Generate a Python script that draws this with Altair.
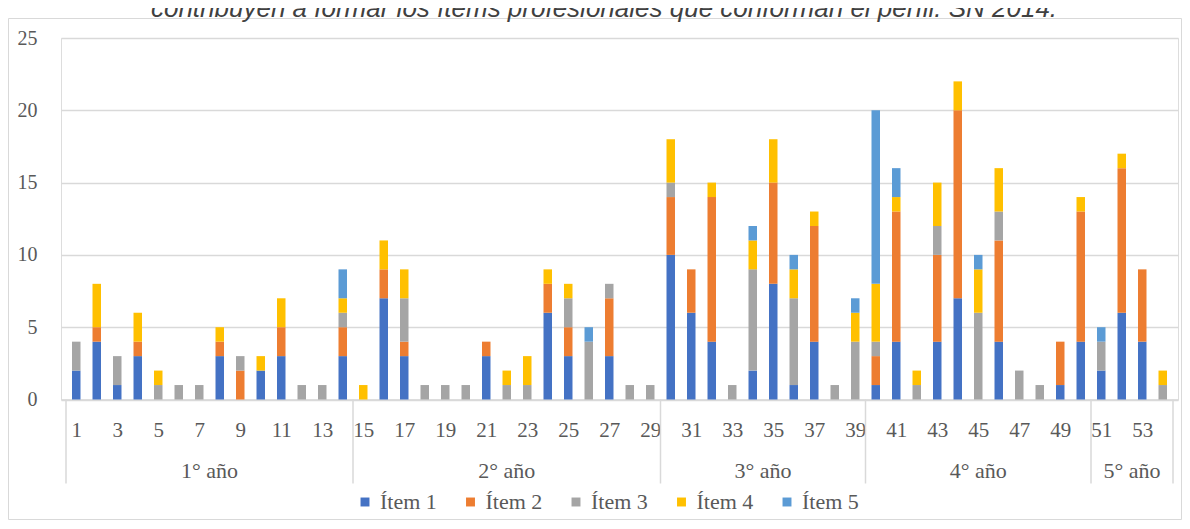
import altair as alt
import pandas as pd

courses = list(range(1, 55))
item1 = [2, 4, 1, 3, 0, 0, 0, 3, 0, 2, 3, 0, 0, 3,
         0, 7, 3, 0, 0, 0, 3, 0, 0, 6, 3, 0, 3, 0, 0,
         10, 6, 4, 0, 2, 8, 1, 4, 0, 0,
         1, 4, 0, 4, 7, 0, 4, 0, 0, 1, 4,
         2, 6, 4, 0]
item2 = [0, 1, 0, 1, 0, 0, 0, 1, 2, 0, 2, 0, 0, 2,
         0, 2, 1, 0, 0, 0, 1, 0, 0, 2, 2, 0, 4, 0, 0,
         4, 3, 10, 0, 0, 7, 0, 8, 0, 0,
         2, 9, 0, 6, 13, 0, 7, 0, 0, 3, 9,
         0, 10, 5, 0]
item3 = [2, 0, 2, 0, 1, 1, 1, 0, 1, 0, 0, 1, 1, 1,
         0, 0, 3, 1, 1, 1, 0, 1, 1, 0, 2, 4, 1, 1, 1,
         1, 0, 0, 1, 7, 0, 6, 0, 1, 4,
         1, 0, 1, 2, 0, 6, 2, 2, 1, 0, 0,
         2, 0, 0, 1]
item4 = [0, 3, 0, 2, 1, 0, 0, 1, 0, 1, 2, 0, 0, 1,
         1, 2, 2, 0, 0, 0, 0, 1, 2, 1, 1, 0, 0, 0, 0,
         3, 0, 1, 0, 2, 3, 2, 1, 0, 2,
         4, 1, 1, 3, 2, 3, 3, 0, 0, 0, 1,
         0, 1, 0, 1]
item5 = [0, 0, 0, 0, 0, 0, 0, 0, 0, 0, 0, 0, 0, 2,
         0, 0, 0, 0, 0, 0, 0, 0, 0, 0, 0, 1, 0, 0, 0,
         0, 0, 0, 0, 1, 0, 1, 0, 0, 1,
         12, 2, 0, 0, 0, 1, 0, 0, 0, 0, 0,
         1, 0, 0, 0]
items = ["Ítem 1", "Ítem 2", "Ítem 3", "Ítem 4", "Ítem 5"]
colors = ["#4472C4", "#ED7D31", "#A5A5A5", "#FFC000", "#5B9BD5"]
years = ["1° año", "2° año", "3° año", "4° año", "5° año"]
year_first = [1, 15, 30, 40, 51]
year_last = [14, 29, 39, 50, 54]
x_tick_labels = list(range(1, 55, 2))
y_ticks = [0, 5, 10, 15, 20, 25]
title_text = "contribuyen a formar los ítems profesionales que conforman el perfil. SN 2014."

W, H = 1117, 361.5
SERIF = "Liberation Serif"
GRAY_TXT = "#595959"
LINE = "#d9d9d9"

series = [item1, item2, item3, item4, item5]
rows = []
for k, s in enumerate(series):
    for c, v in zip(courses, s):
        if v > 0:
            rows.append({"curso": c, "item": items[k], "orden": k, "valor": v})
df = pd.DataFrame(rows)

bounds = [year_first[0] - 0.5] + [l + 0.5 for l in year_last]
df_sep = pd.DataFrame({"curso": bounds})
df_year = pd.DataFrame({"year": years,
                        "curso": [(a + b) / 2 for a, b in zip(year_first, year_last)]})
df_title = pd.DataFrame({"t": [title_text]})

xscale = alt.Scale(domain=[0.5, 54.5], nice=False, zero=False)
yscale = alt.Scale(domain=[0, 25], nice=False)
xaxis = alt.Axis(values=x_tick_labels, title=None, ticks=False, tickSize=0, grid=False,
                 domain=True, domainColor=LINE, domainWidth=1.5,
                 labelFont=SERIF, labelFontSize=21, labelColor=GRAY_TXT,
                 labelPadding=37, labelBaseline="alphabetic", format="d",
                 labelFlush=False, labelOverlap=False)
X = alt.X("curso:Q", scale=xscale, axis=xaxis)

frame = alt.Chart(df_title).mark_rect(fillOpacity=0, stroke=LINE, strokeWidth=1).encode(
    x=alt.value(-52.5), x2=alt.value(1120.5), y=alt.value(-19.5), y2=alt.value(481.5)
)

bars = alt.Chart(df).mark_bar(size=8.5).encode(
    x=X,
    y=alt.Y("valor:Q", stack="zero", scale=yscale,
            axis=alt.Axis(values=y_ticks, title=None, ticks=False, tickSize=0, domain=False,
                          grid=True, gridColor=LINE, gridWidth=1.5,
                          labelFont=SERIF, labelFontSize=20, labelColor=GRAY_TXT,
                          labelPadding=24)),
    color=alt.Color("item:N", scale=alt.Scale(domain=items, range=colors),
                    legend=alt.Legend(title=None, orient="none", direction="horizontal",
                                      legendX=293, legendY=453, symbolType="square",
                                      symbolSize=80, symbolStrokeWidth=0,
                                      labelFont=SERIF, labelFontSize=22, labelColor=GRAY_TXT,
                                      labelOffset=4, columnPadding=22.5)),
    order=alt.Order("orden:Q"),
)

seps = alt.Chart(df_sep).mark_rule(color=LINE, strokeWidth=1.5).encode(
    x=X,
    y=alt.value(H), y2=alt.value(H + 84),
)

year_text = alt.Chart(df_year).mark_text(
    font=SERIF, fontSize=22, color=GRAY_TXT, baseline="alphabetic", align="center"
).encode(
    x=X,
    y=alt.value(H + 78.5),
    text="year:N",
)

title = alt.Chart(df_title).mark_text(
    font="Liberation Sans", fontStyle="italic", fontSize=26, color="#404040",
    baseline="alphabetic", align="center"
).encode(x=alt.value(543), y=alt.value(-21), text="t:N")

chart = alt.layer(frame, bars, seps, year_text, title).properties(
    width=W, height=H,
    autosize=alt.AutoSizeParams(type="none"),
    padding={"left": 53, "top": 30, "right": 4, "bottom": 121},
).configure_view(stroke=None).configure(background="white")

chart.save("out.html", embed_options={"renderer": "svg", "actions": False})
